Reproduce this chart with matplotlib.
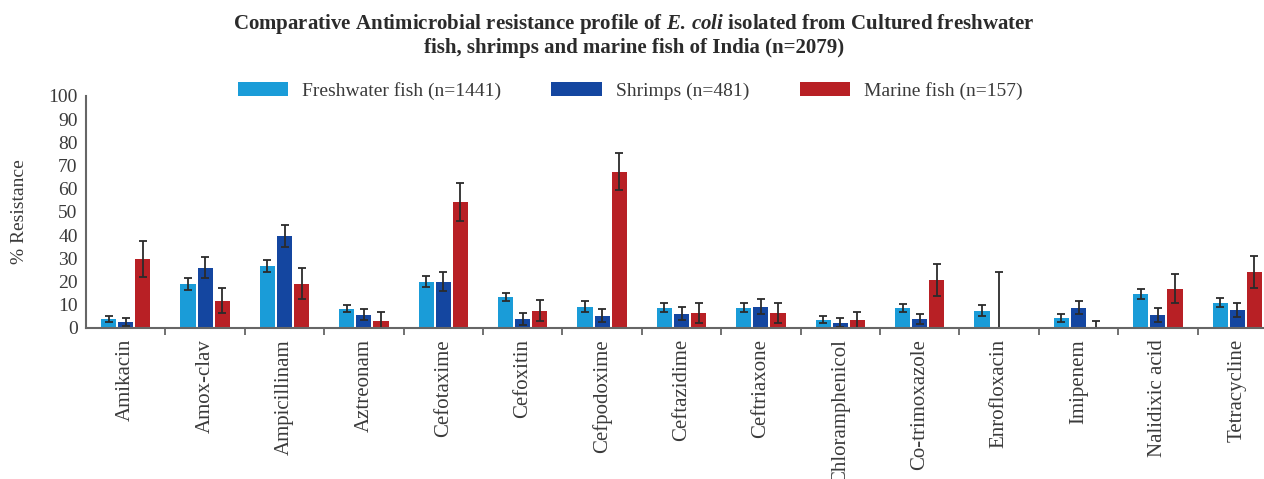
import numpy as np
import matplotlib.pyplot as plt

# Data
drugs = ['Amikacin', 'Amox-clav', 'Ampicillinam', 'Aztreonam', 'Cefotaxime',
         'Cefoxitin', 'Cefpodoxime', 'Ceftazidime', 'Ceftriaxone',
         'Chloramphenicol', 'Co-trimoxazole', 'Enrofloxacin', 'Imipenem',
         'Nalidixic acid', 'Tetracycline']

freshwater = [4.0, 19.1, 26.8, 8.3, 19.9, 13.5, 9.2, 8.8, 8.8, 3.6, 8.8, 7.5, 4.4, 14.8, 10.9]
freshwater_err = [1.2, 2.6, 2.5, 1.6, 2.4, 1.8, 2.4, 1.9, 1.9, 1.4, 1.7, 2.2, 1.6, 2.2, 1.9]

shrimps = [2.7, 26.0, 39.7, 5.7, 19.9, 4.0, 5.3, 6.2, 9.2, 2.3, 4.0, 0.0, 8.8, 5.7, 7.9]
shrimps_err = [1.8, 4.5, 4.8, 2.4, 4.1, 2.5, 2.7, 2.7, 3.2, 1.8, 2.1, 24.2, 2.7, 2.9, 3.0]

marine = [29.8, 11.8, 19.1, 3.2, 54.4, 7.5, 67.3, 6.6, 6.6, 3.6, 20.8, 0.0, 0.0, 16.9, 24.2]
marine_err = [7.7, 5.5, 6.6, 3.5, 8.2, 4.6, 8.0, 4.3, 4.3, 3.4, 7.0, np.nan, 3.2, 6.2, 6.8]

labels = ['Freshwater fish (n=1441)', 'Shrimps (n=481)', 'Marine fish (n=157)']
colors = ['#1a9cd8', '#1446a0', '#b82025']

plt.rcParams['font.family'] = ['Liberation Serif', 'DejaVu Serif']
plt.rcParams['mathtext.fontset'] = 'custom'
plt.rcParams['mathtext.it'] = 'Liberation Serif:italic:bold'
plt.rcParams['mathtext.rm'] = 'Liberation Serif:bold'
text_col = '#3a3a3a'

fig = plt.figure(figsize=(12.64, 4.79), dpi=100)
ax = fig.add_axes([86 / 1264, 1 - 328 / 479, 1191 / 1264, 232 / 479])

x = np.arange(len(drugs))
w = 0.19
step = 0.215
series = [(freshwater, freshwater_err), (shrimps, shrimps_err), (marine, marine_err)]
for i, (vals, errs) in enumerate(series):
    vals = np.array(vals)
    errs = np.array(errs)
    lo = np.minimum(errs, vals)
    ax.bar(x + (i - 1) * step, vals, width=w, color=colors[i], label=labels[i],
           yerr=[lo, errs], capsize=3,
           error_kw=dict(ecolor='#2b2b2b', elinewidth=1.3, capthick=1.3))

ax.set_xlim(-0.5, len(drugs) - 0.5)
ax.set_ylim(0, 100)
ax.set_yticks(np.arange(0, 101, 10))
ax.tick_params(axis='y', length=0, labelsize=14, labelcolor=text_col, pad=6)

# boundary ticks between groups, labels at group centres
ax.set_xticks(np.arange(0.5, len(drugs) - 0.5, 1))
ax.set_xticklabels([])
ax.tick_params(axis='x', which='major', length=5, width=1.3, color='#666666', direction='out')
ax.set_xticks(x, minor=True)
ax.set_xticklabels(drugs, minor=True, rotation=90, fontsize=15, color=text_col)
ax.tick_params(axis='x', which='minor', length=0, pad=8)

for s in ['top', 'right']:
    ax.spines[s].set_visible(False)
for s in ['left', 'bottom']:
    ax.spines[s].set_color('#666666')
    ax.spines[s].set_linewidth(1.5)

fig.text(20 / 1264, 1 - 212 / 479, '% Resistance', rotation=90, fontsize=14,
         color=text_col, ha='center', va='center')

fig.text(634 / 1264, 1 - 24 / 479,
         'Comparative Antimicrobial resistance profile of ' + r'$\mathit{E.\,coli}$'
         + ' isolated from Cultured freshwater',
         fontsize=15, fontweight='bold', ha='center', va='center', color='#2b2b2b')
fig.text(634 / 1264, 1 - 48 / 479, 'fish, shrimps and marine fish of India (n=2079)',
         fontsize=15, fontweight='bold', ha='center', va='center', color='#2b2b2b')

fig.legend(loc='center', bbox_to_anchor=(630 / 1264, 1 - 91 / 479), ncol=3,
           frameon=False, fontsize=14, handlelength=2.6, handleheight=0.75,
           columnspacing=2.6, handletextpad=0.7, labelcolor=text_col)

fig.savefig('out.png', dpi=100)
